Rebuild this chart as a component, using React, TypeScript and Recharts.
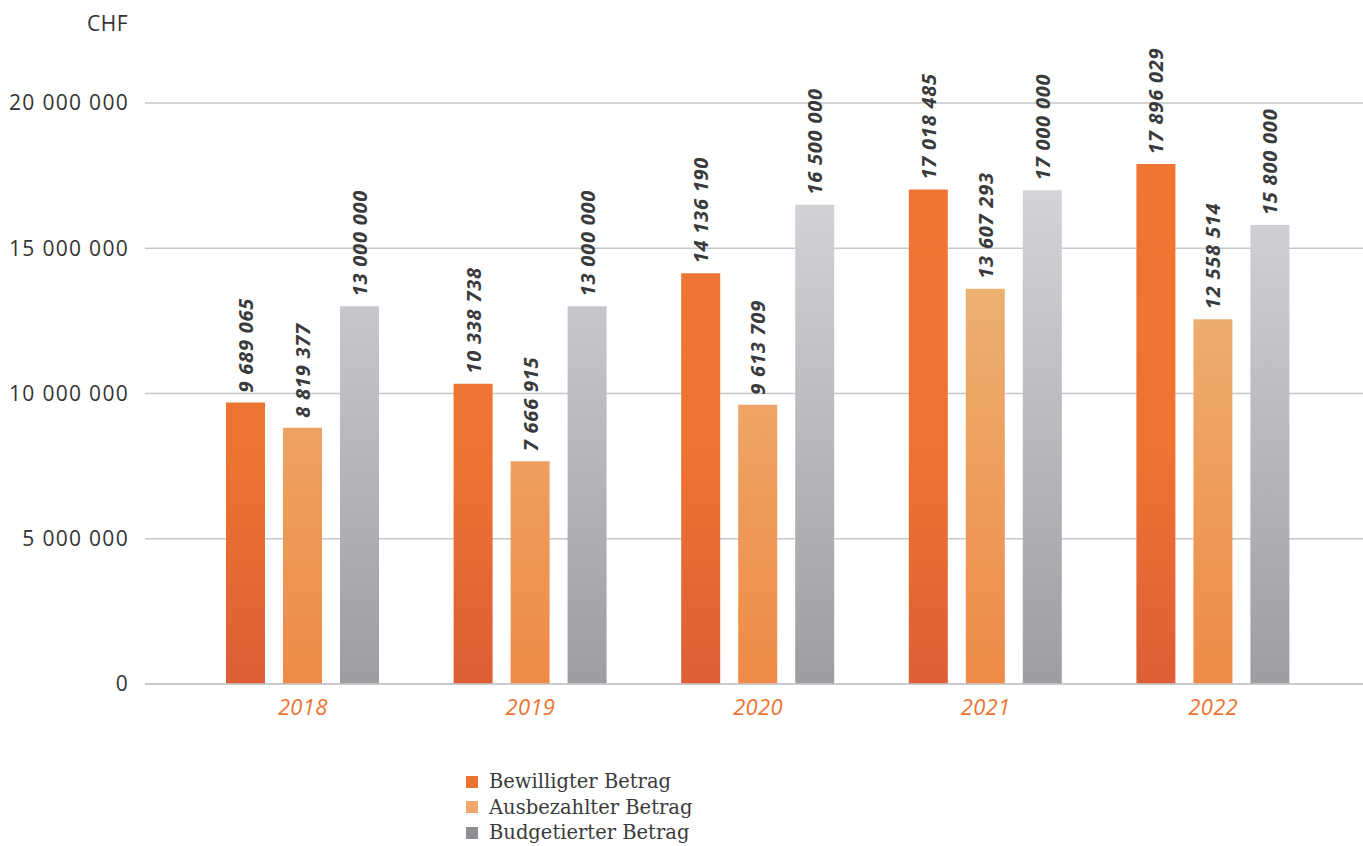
import React from 'react';
import { BarChart, Bar, XAxis, YAxis, CartesianGrid, LabelList, Legend, Label } from 'recharts';

const years = ['2018', '2019', '2020', '2021', '2022'];
const bewilligt = [9689065, 10338738, 14136190, 17018485, 17896029];
const ausbezahlt = [8819377, 7666915, 9613709, 13607293, 12558514];
const budgetiert = [13000000, 13000000, 16500000, 17000000, 15800000];
const yTicks = [0, 5000000, 10000000, 15000000, 20000000];
const seriesNames = ['Bewilligter Betrag', 'Ausbezahlter Betrag', 'Budgetierter Betrag'];
const legendColors = ['#EE7432', '#F2A66C', '#8F9094'];

const data = years.map((y, i) => ({
  year: y,
  bew: bewilligt[i],
  aus: ausbezahlt[i],
  bud: budgetiert[i],
}));

const fmt = (v: number) => String(Math.round(v)).replace(/\B(?=(\d{3})+(?!\d))/g, ' ');

const SANS = '"Open Sans", sans-serif';

const renderLabel = (props: any) => {
  const { x, y, width, value } = props;
  const cx = Number(x) + Number(width) / 2;
  const cy = Number(y) - 10;
  return (
    <text
      x={cx}
      y={cy}
      transform={`rotate(-90 ${cx} ${cy})`}
      textAnchor="start"
      dominantBaseline="central"
      fontFamily={SANS}
      fontWeight={700}
      fontStyle="italic"
      fontSize={20}
      letterSpacing={0.8}
      fill="#3a3a3c"
    >
      {fmt(value)}
    </text>
  );
};

const renderLegend = () => (
  <div style={{ fontFamily: '"DejaVu Serif", serif', fontSize: 19.5, color: '#3a3a3a' }}>
    {seriesNames.map((n, i) => (
      <div key={n} style={{ display: 'flex', alignItems: 'center', height: 25.5 }}>
        <span style={{ display: 'inline-block', width: 12, height: 12, background: legendColors[i], marginRight: 11 }} />
        <span>{n}</span>
      </div>
    ))}
  </div>
);

export default function App() {
  return (
    <div style={{ position: 'absolute', left: 0, top: 0, width: 1363, height: 846, background: '#fff' }}>
      <BarChart
        width={1363}
        height={846}
        data={data}
        margin={{ top: 103, right: 0, left: 0, bottom: 0 }}
        barSize={39}
        barGap={18}
      >
        <defs>
          <linearGradient id="gBew" gradientUnits="userSpaceOnUse" x1="0" y1="103" x2="0" y2="684">
            <stop offset="0" stopColor="#EF7631" />
            <stop offset="0.6" stopColor="#EE7432" />
            <stop offset="1" stopColor="#DC5F36" />
          </linearGradient>
          <linearGradient id="gAus" gradientUnits="userSpaceOnUse" x1="0" y1="250" x2="0" y2="684">
            <stop offset="0" stopColor="#ECB476" />
            <stop offset="1" stopColor="#EF8A47" />
          </linearGradient>
          <linearGradient id="gBud" gradientUnits="userSpaceOnUse" x1="0" y1="190" x2="0" y2="684">
            <stop offset="0" stopColor="#D3D4D8" />
            <stop offset="1" stopColor="#9C9EA2" />
          </linearGradient>
        </defs>
        <CartesianGrid vertical={false} stroke="#c6c7cb" strokeWidth={1.5} />
        <XAxis
          dataKey="year"
          axisLine={{ stroke: '#c6c7cb', strokeWidth: 1.5 }}
          tickLine={false}
          tickSize={0}
          tickMargin={15}
          height={162}
          padding={{ left: 44, right: 36 }}
          tick={{ fill: '#EE7432', fontStyle: 'italic', fontSize: 22, fontFamily: SANS, letterSpacing: 0.3 }}
        />
        <YAxis
          width={145}
          domain={[0, 20000000]}
          ticks={yTicks}
          axisLine={false}
          tickLine={false}
          tickSize={0}
          tickMargin={16}
          tickFormatter={fmt}
          tick={{ fill: '#333', fontSize: 21, fontFamily: SANS, letterSpacing: 1.3 }}
        >
          <Label
            content={(p: any) => {
              const vb = p.viewBox || { x: 0, y: 103, width: 145 };
              return (
                <text
                  x={vb.x + 128}
                  y={vb.y - 80}
                  textAnchor="end"
                  dominantBaseline="central"
                  fontFamily={SANS}
                  fontSize={21}
                  letterSpacing={0.5}
                  fill="#333"
                >
                  CHF
                </text>
              );
            }}
          />
        </YAxis>
        <Legend
          layout="vertical"
          align="center"
          verticalAlign="middle"
          content={renderLegend}
          wrapperStyle={{ left: 466, top: 769, width: 'auto', height: 'auto' }}
        />
        <Bar dataKey="bew" name={seriesNames[0]} fill="url(#gBew)" isAnimationActive={false}>
          <LabelList dataKey="bew" content={renderLabel} />
        </Bar>
        <Bar dataKey="aus" name={seriesNames[1]} fill="url(#gAus)" isAnimationActive={false}>
          <LabelList dataKey="aus" content={renderLabel} />
        </Bar>
        <Bar dataKey="bud" name={seriesNames[2]} fill="url(#gBud)" isAnimationActive={false}>
          <LabelList dataKey="bud" content={renderLabel} />
        </Bar>
      </BarChart>
    </div>
  );
}
